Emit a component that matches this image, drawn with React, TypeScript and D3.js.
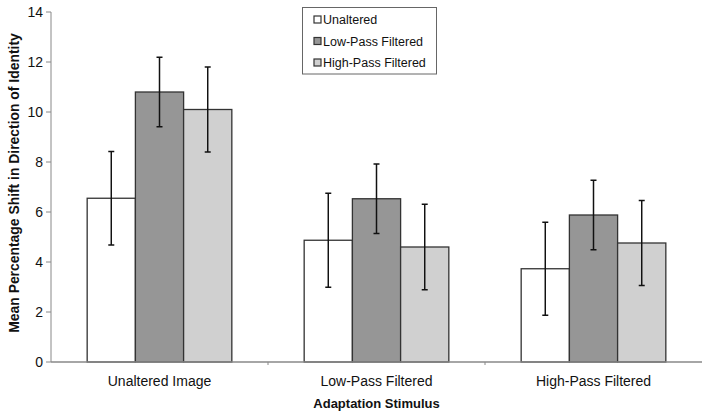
import React from "react";
import * as d3 from "d3";

const categories = ["Unaltered Image", "Low-Pass Filtered", "High-Pass Filtered"];
const seriesNames = ["Unaltered", "Low-Pass Filtered", "High-Pass Filtered"];
const unalteredMeans = [6.55, 4.87, 3.73];
const lowPassMeans = [10.8, 6.53, 5.88];
const highPassMeans = [10.1, 4.6, 4.76];
const unalteredErr = [1.87, 1.88, 1.86];
const lowPassErr = [1.39, 1.39, 1.39];
const highPassErr = [1.7, 1.71, 1.7];
const yTicks = [0, 2, 4, 6, 8, 10, 12, 14];
const seriesColors = ["#ffffff", "#969696", "#d0d0d0"];

const W = 708;
const H = 418;
const margin = { left: 51, right: 6, top: 12, bottom: 56 };

export default function App() {
  const means = [unalteredMeans, lowPassMeans, highPassMeans];
  const errs = [unalteredErr, lowPassErr, highPassErr];
  const x0 = d3
    .scaleBand<string>()
    .domain(categories)
    .range([margin.left, W - margin.right])
    .paddingInner(0)
    .paddingOuter(0);
  const groupW = x0.bandwidth() * (3 / 4.5);
  const x1 = d3
    .scaleBand<string>()
    .domain(seriesNames)
    .range([0, groupW])
    .padding(0);
  const y = d3.scaleLinear().domain([0, 14]).range([H - margin.bottom, margin.top]);
  const font = "Liberation Sans, Arial, sans-serif";
  const axisColor = "#888";

  return (
    <svg width={W} height={H} style={{ position: "absolute", left: 0, top: 0, background: "#fff" }} fontFamily={font}>
      {/* y axis */}
      <line x1={margin.left} x2={margin.left} y1={y(14)} y2={y(0)} stroke={axisColor} strokeWidth={1} />
      {yTicks.map((t) => (
        <g key={t}>
          <line x1={margin.left - 5} x2={margin.left} y1={y(t)} y2={y(t)} stroke={axisColor} />
          <text x={margin.left - 8} y={y(t)} dy="0.35em" textAnchor="end" fontSize={14} fill="#111">
            {t}
          </text>
        </g>
      ))}
      {/* bars */}
      {categories.map((c, ci) => {
        const gx = (x0(c) as number) + (x0.bandwidth() - groupW) / 2;
        return (
          <g key={c}>
            {seriesNames.map((s, si) => {
              const v = means[si][ci];
              const bx = gx + (x1(s) as number);
              const bw = x1.bandwidth();
              return (
                <rect
                  key={s}
                  x={bx}
                  y={y(v)}
                  width={bw}
                  height={y(0) - y(v)}
                  fill={seriesColors[si]}
                  stroke="#333"
                  strokeWidth={1.3}
                />
              );
            })}
            {seriesNames.map((s, si) => {
              const v = means[si][ci];
              const e = errs[si][ci];
              const cx = gx + (x1(s) as number) + x1.bandwidth() / 2;
              return (
                <g key={s + "e"} stroke="#111" strokeWidth={1.5}>
                  <line x1={cx} x2={cx} y1={y(v + e)} y2={y(v - e)} />
                  <line x1={cx - 3} x2={cx + 3} y1={y(v + e)} y2={y(v + e)} />
                  <line x1={cx - 3} x2={cx + 3} y1={y(v - e)} y2={y(v - e)} />
                </g>
              );
            })}
            <text
              x={(x0(c) as number) + x0.bandwidth() / 2}
              y={y(0) + 24}
              textAnchor="middle"
              fontSize={14}
              fill="#111"
            >
              {c}
            </text>
          </g>
        );
      })}
      {/* x axis */}
      <line x1={margin.left} x2={W - margin.right} y1={y(0)} y2={y(0)} stroke={axisColor} strokeWidth={1.3} />
      {categories.slice(1).map((c) => (
        <line key={c} x1={x0(c) as number} x2={x0(c) as number} y1={y(0)} y2={y(0) + 3} stroke={axisColor} />
      ))}
      {/* axis titles */}
      <text
        x={(margin.left + W - margin.right) / 2}
        y={408}
        textAnchor="middle"
        fontSize={13}
        fontWeight="bold"
        fill="#111"
      >
        Adaptation Stimulus
      </text>
      <text
        transform={`translate(19,${(y(0) + y(14)) / 2 - 4}) rotate(-90)`}
        textAnchor="middle"
        fontSize={13.9}
        fontWeight="bold"
        fill="#111"
      >
        Mean Percentage Shift in Direction of Identity
      </text>
      {/* legend */}
      <rect x={302.5} y={7.5} width={134} height={66.5} fill="#fff" stroke="#666" strokeWidth={1} />
      {seriesNames.map((s, si) => (
        <g key={s}>
          <rect x={314} y={16 + si * 21.5} width={7} height={7} fill={seriesColors[si]} stroke="#333" strokeWidth={1.2} />
          <text x={323} y={20 + si * 21.5} dy="0.35em" fontSize={12.5} fill="#111">
            {s}
          </text>
        </g>
      ))}
    </svg>
  );
}
